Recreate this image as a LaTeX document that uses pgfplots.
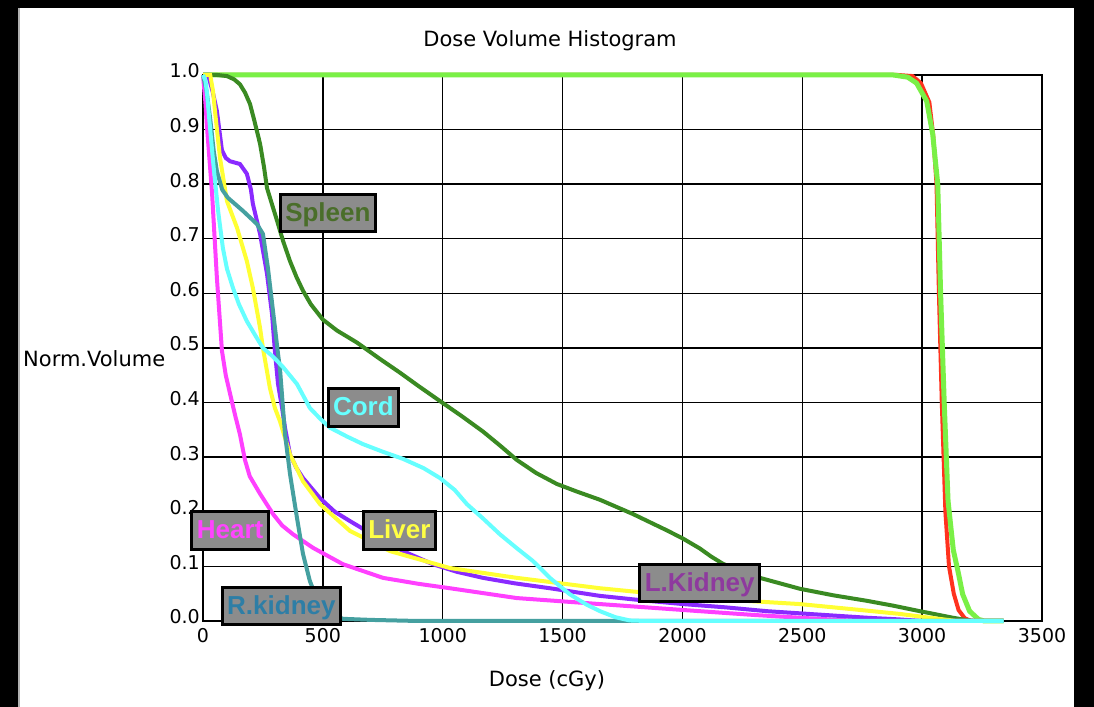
\documentclass[border=0pt]{standalone}
\usepackage{fontspec}
\setmainfont{DejaVu Sans}
\newfontfamily\labfont{Liberation Sans}
\usepackage{pgfplots}
\pgfplotsset{compat=1.18}
\definecolor{ptv}{RGB}{122,240,70}
\definecolor{ptvred}{RGB}{255,50,30}
\definecolor{spleen}{RGB}{58,138,34}
\definecolor{lkid}{RGB}{138,42,255}
\definecolor{liver}{RGB}{255,255,51}
\definecolor{cord}{RGB}{102,255,255}
\definecolor{heart}{RGB}{255,64,255}
\definecolor{rkid}{RGB}{69,160,160}
\definecolor{boxgray}{RGB}{140,140,140}
\definecolor{spleentxt}{RGB}{74,110,42}
\definecolor{rkidtxt}{RGB}{46,126,166}
\definecolor{lkidtxt}{RGB}{142,58,158}
\definecolor{hearttxt}{RGB}{255,68,255}
\definecolor{livertxt}{RGB}{255,255,68}
\definecolor{cordtxt}{RGB}{102,255,255}
\tikzset{lbl/.style={fill=boxgray, draw=black, line width=3bp,
    font=\labfont\bfseries\fontsize{26bp}{30bp}\selectfont,
    inner xsep=5bp, inner ysep=6bp, text height=21bp, text depth=4.5bp}}
\begin{document}
\begin{tikzpicture}
\fill[black] (0,0) rectangle (1094bp,707bp);
\fill[white] (20bp,0) rectangle (1074bp,699bp);
\fill[gray!60] (17.5bp,0) rectangle (20bp,699bp);
\begin{axis}[
  at={(203bp,86bp)}, anchor=south west,
  scale only axis, width=839bp, height=546bp,
  xmin=0, xmax=3500, ymin=0, ymax=1,
  clip=false,
  xtick={0,500,1000,1500,2000,2500,3000,3500},
  xticklabels={0,500,1000,1500,2000,2500,3000,3500},
  ytick={0,0.1,0.2,0.3,0.4,0.5,0.6,0.7,0.8,0.9,1.0},
  yticklabels={0.0,0.1,0.2,0.3,0.4,0.5,0.6,0.7,0.8,0.9,1.0},
  grid=major,
  major grid style={black, line width=1.4bp},
  axis line style={black, line width=1.4bp},
  major tick length=0pt,
  tick style={draw=none},
  ticklabel style={font=\fontsize{19bp}{22bp}\selectfont, inner sep=0pt},
  yticklabel style={anchor=base east, xshift=-3bp, yshift=-3bp},
  xticklabel style={anchor=north, yshift=-7bp},
]
% PTV red (underneath)
\addplot[ptvred, line width=4bp] coordinates {
(0,1) (2900,1) (2960,0.998) (2995,0.985) (3030,0.95) (3046,0.89) (3060,0.8)
(3070,0.6) (3082,0.4) (3097,0.2) (3112,0.1) (3132,0.05) (3152,0.02) (3178,0.005) (3205,0) (3260,0)};
% PTV green
\addplot[ptv, line width=5bp] coordinates {
(0,1) (2880,1) (2940,0.996) (2977,0.985) (3019,0.952) (3044,0.892) (3065,0.8)
(3077,0.6) (3092,0.4) (3108,0.22) (3130,0.13) (3150,0.09) (3169,0.049) (3198,0.018) (3235,0.003) (3260,0) (3340,0)};
% Spleen
\addplot[spleen, line width=4bp] coordinates {
(0,1) (60,1) (100,0.998) (130,0.992) (154,0.983) (175,0.968) (196,0.947) (215,0.915)
(238,0.874) (255,0.83) (267,0.793) (290,0.76) (309,0.733) (334,0.696) (363,0.659)
(390,0.63) (417,0.605) (450,0.58) (500,0.552) (559,0.532) (642,0.51) (738,0.48)
(821,0.455) (900,0.43) (988,0.403) (1080,0.375) (1168,0.347) (1240,0.321) (1309,0.295)
(1390,0.271) (1476,0.251) (1560,0.237) (1656,0.222) (1793,0.196) (1935,0.166) (2002,0.151)
(2072,0.133) (2120,0.118) (2168,0.105) (2240,0.091) (2323,0.079) (2490,0.059) (2630,0.047)
(2769,0.037) (2880,0.028) (2990,0.018) (3060,0.012) (3128,0.006) (3180,0.002) (3220,0)};
% Heart
\addplot[heart, line width=4bp] coordinates {
(0,1) (10,0.95) (17,0.903) (38,0.782) (58,0.628) (79,0.495) (95,0.45) (113,0.416)
(135,0.375) (154,0.342) (175,0.295) (195,0.265) (238,0.233) (292,0.196) (330,0.175)
(375,0.159) (459,0.134) (584,0.104) (751,0.079) (900,0.068) (1030,0.06) (1309,0.042)
(1656,0.031) (2072,0.018) (2300,0.011) (2490,0.006) (2650,0.002) (2750,0) (3340,0)};
% L.Kidney
\addplot[lkid, line width=4bp] coordinates {
(0,1) (21,1) (40,0.97) (58,0.934) (79,0.862) (95,0.848) (113,0.842) (154,0.837)
(183,0.819) (200,0.79) (208,0.764) (238,0.709) (267,0.636) (288,0.562) (300,0.494)
(313,0.434) (330,0.39) (342,0.354) (363,0.305) (390,0.28) (417,0.262) (488,0.225)
(550,0.2) (613,0.183) (751,0.147) (850,0.125) (959,0.104) (1060,0.09) (1168,0.079)
(1300,0.069) (1447,0.06) (1656,0.046) (1830,0.038) (2002,0.031) (2180,0.025)
(2352,0.018) (2560,0.012) (2769,0.006) (2900,0.003) (3000,0) (3340,0)};
% Liver
\addplot[liver, line width=4bp] coordinates {
(0,1) (30,1) (42,0.97) (50,0.934) (71,0.848) (100,0.769) (142,0.72) (183,0.659)
(208,0.61) (238,0.537) (250,0.5) (279,0.427) (300,0.39) (321,0.366) (363,0.305)
(417,0.256) (488,0.214) (613,0.165) (780,0.128) (1030,0.097) (1309,0.079) (1656,0.06)
(2072,0.042) (2490,0.031) (2700,0.022) (2906,0.013) (3050,0.005) (3144,0) (3340,0)};
% R.kidney
\addplot[rkid, line width=4bp] coordinates {
(0,1) (15,0.97) (30,0.92) (45,0.86) (58,0.824) (80,0.79) (104,0.775) (167,0.751)
(225,0.727) (250,0.709) (271,0.646) (292,0.568) (313,0.489) (321,0.463) (342,0.342)
(363,0.269) (392,0.189) (417,0.123) (446,0.073) (480,0.035) (520,0.015) (584,0.004)
(700,0.002) (900,0) (3340,0)};
% Cord
\addplot[cord, line width=4bp] coordinates {
(0,1) (10,0.99) (17,0.965) (30,0.9) (42,0.842) (63,0.751) (83,0.683) (100,0.645)
(125,0.61) (150,0.58) (183,0.549) (225,0.518) (250,0.5) (290,0.485) (334,0.465)
(392,0.434) (446,0.39) (490,0.37) (530,0.354) (600,0.338) (667,0.324) (750,0.31)
(834,0.297) (920,0.28) (988,0.262) (1050,0.24) (1101,0.214) (1170,0.187) (1238,0.159)
(1310,0.133) (1376,0.11) (1447,0.079) (1530,0.049) (1600,0.03) (1656,0.018)
(1720,0.007) (1780,0.001) (1850,0) (3340,0)};
\node[lbl, text=spleentxt] at (axis cs:521,0.747) {Spleen};
\node[lbl, text=cordtxt] at (axis cs:669,0.391) {Cord};
\node[lbl, text=hearttxt] at (axis cs:113,0.166) {Heart};
\node[lbl, text=livertxt] at (axis cs:819,0.166) {Liver};
\node[lbl, text=rkidtxt] at (axis cs:327,0.0275) {R.kidney};
\node[lbl, text=lkidtxt] at (axis cs:2072,0.07) {L.Kidney};
\end{axis}
\node[anchor=base, font=\fontsize{21bp}{24bp}\selectfont, inner sep=0pt] at (550bp,660bp) {Dose Volume Histogram};
\node[anchor=base west, font=\fontsize{21bp}{24bp}\selectfont, inner sep=0pt] at (23bp,340bp) {Norm.Volume};
\node[anchor=base, font=\fontsize{21bp}{24bp}\selectfont, inner sep=0pt] at (547bp,21bp) {Dose (cGy)};
\end{tikzpicture}
\end{document}
